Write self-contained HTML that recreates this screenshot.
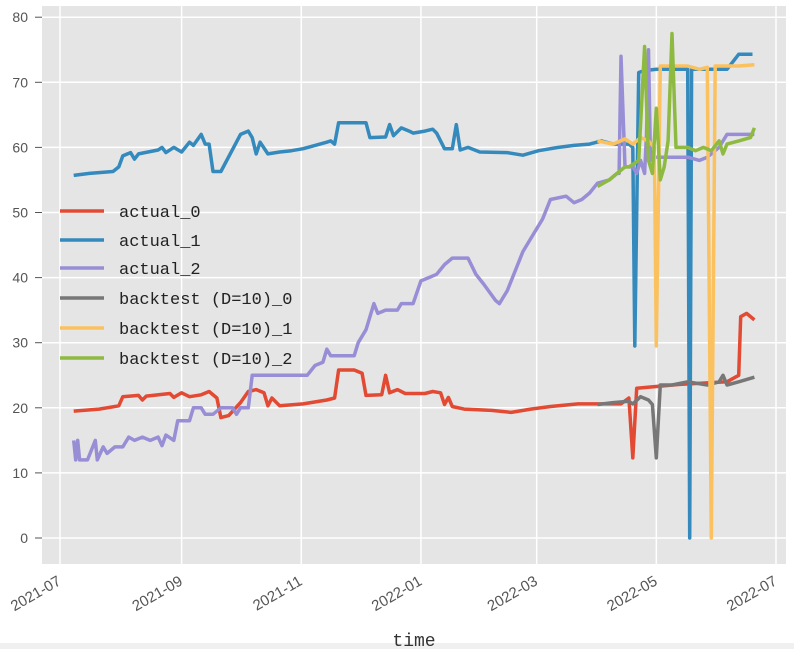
<!DOCTYPE html>
<html><head><meta charset="utf-8"><style>
body{margin:0;background:#fff;width:794px;height:649px;overflow:hidden}
svg{display:block}
</style></head><body>
<svg id="c" width="794" height="649" xmlns="http://www.w3.org/2000/svg"></svg>
<script>
const yTicks=[0,10,20,30,40,50,60,70,80];
const xTickLabels=["2021-07","2021-09","2021-11","2022-01","2022-03","2022-05","2022-07"];
const xTickDays=[0,62,123,184,243,304,365];
const seriesNames=["actual_0","actual_1","actual_2","backtest (D=10)_0","backtest (D=10)_1","backtest (D=10)_2"];
const a0Days=[7,20,30,32,40,42,44,56,58,62,66,72,76,80,82,86,92,96,100,104,106,108,112,124,136,140,142,150,154,156,164,166,168,172,176,186,190,194,196,198,200,206,220,230,240,250,264,276,286,290,292,294,316,340,346,347,350,354];
const a0Vals=[19.5,19.8,20.3,21.7,21.9,21.2,21.8,22.2,21.6,22.3,21.7,22,22.5,21.5,18.5,18.8,20.8,22.5,22.8,22.3,20.3,21.5,20.3,20.6,21.2,21.5,25.8,25.8,25.3,21.9,22,25,22.3,22.8,22.2,22.2,22.5,22.3,20.5,21.6,20.2,19.8,19.6,19.3,19.8,20.2,20.6,20.6,20.6,21.5,12.3,23,23.6,24,25,34,34.5,33.5];
const a1Days=[7,15,27,30,32,36,38,40,50,52,54,58,62,66,68,72,74,76,78,82,92,96,98,100,102,106,112,118,124,130,136,138,140,142,156,158,166,168,170,174,178,180,186,190,192,196,200,202,204,208,214,228,236,244,254,262,270,276,282,290,292,293,295,298,304,318,320,321,322,340,346,353];
const a1Vals=[55.7,56,56.3,57,58.7,59.2,58.2,59,59.6,60,59.2,60,59.3,60.8,60.3,62,60.5,60.5,56.3,56.3,62,62.5,61.5,59,60.8,59,59.3,59.5,59.8,60.3,60.8,61,60.5,63.8,63.8,61.5,61.6,63.5,61.8,63,62.5,62.2,62.5,62.8,62.2,59.8,59.8,63.5,59.6,60,59.3,59.2,58.8,59.5,60,60.3,60.5,61,60.5,60.5,60,29.5,71.5,71.8,72,72,72,0,72,72,74.3,74.3];
const a2Days=[7,8,9,10,14,18,19,22,24,28,32,35,38,42,46,50,52,54,58,60,66,68,72,74,78,82,88,90,92,96,98,118,126,130,134,136,138,150,152,156,160,162,166,172,174,180,184,188,192,196,200,208,212,216,222,224,228,232,236,242,246,250,258,262,266,270,274,280,284,285,286,288,292,294,296,298,299,300,301,304,306,310,320,326,330,336,340,354];
const a2Vals=[15,12,15,12,12,15,12,14,13,14,14,15.5,15,15.5,15,15.5,14.2,15.8,15,18,18,20,20,19,19,20,20,19,20,20,25,25,25,26.5,27,29,28,28,30,32,36,34.5,35,35,36,36,39.5,40,40.5,42,43,43,40.5,39,36.5,36,38,41,44,47,49,52,52.5,51.5,52,53,54.5,55,56,56,74,57,57,56,58,56,62,75,58,58.5,58.5,58.5,58.5,58,58.5,60,62,62];
const b0Days=[274,282,290,292,296,300,302,304,306,312,320,330,336,338,340,346,354];
const b0Vals=[20.5,20.8,21,20.6,21.7,21.2,20.5,12.3,23.5,23.5,24,23.5,24,25,23.5,24,24.7];
const b1Days=[274,282,288,292,296,300,303,304,306,312,320,326,330,332,334,340,346,354];
const b1Vals=[61,60.5,61.3,60.5,61.5,61,60,29.5,72.5,72.5,72.5,72,72.3,0,72.5,72.5,72.5,72.7];
const b2Days=[274,280,284,288,290,295,298,300,302,304,306,308,310,312,314,320,324,328,332,336,338,340,346,352,354];
const b2Vals=[54,55,56,57,57,58,75.5,58,56,66,55,57,61,77.5,60,60,59.5,60,59.5,61,59,60.5,61,61.5,63];
const colors=["#E24A33","#348ABD","#988ED5","#777777","#FBC15E","#8EBA42"];
const L=42,R=786,T=6,B=564;
const xS=d=>60+d*716/365;
const yS=v=>538-v*6.51;
const NS="http://www.w3.org/2000/svg";
const svg=document.getElementById('c');
function mk(tag,attrs,parent){const e=document.createElementNS(NS,tag);for(const k in attrs)e.setAttribute(k,attrs[k]);(parent||svg).appendChild(e);return e;}
let bg=mk('rect',{x:L,y:T,width:R-L,height:B-T,fill:'#E5E5E5'});


mk('rect',{x:0,y:643,width:794,height:6,fill:'#f0f0f0'});
yTicks.forEach(v=>{
 const g=mk('line',{x1:L,x2:R,y1:yS(v),y2:yS(v),stroke:'#fff','stroke-width':1.5});
 
 
 mk('line',{x1:35,x2:L,y1:yS(v),y2:yS(v),stroke:'#555','stroke-width':1});
 const t=mk('text',{x:28,y:yS(v)+5,'text-anchor':'end','font-size':14,fill:'#555','font-family':'Liberation Sans, sans-serif'});
 t.textContent=v;
 
 
});
xTickDays.forEach((d,i)=>{
 const x=xS(d);
 const g=mk('line',{x1:x,x2:x,y1:T,y2:B,stroke:'#fff','stroke-width':1.5});
 
 
 const t=mk('text',{x:x+2,y:B+20,'text-anchor':'end','font-size':15,fill:'#555','font-family':'Liberation Sans, sans-serif',transform:`rotate(-30 ${x+2} ${B+20})`});
 t.textContent=xTickLabels[i];
 
 
});
const xt=mk('text',{x:414,y:646,'text-anchor':'middle','font-size':18,fill:'#333','font-family':'Liberation Mono, monospace'});
xt.textContent='time';


const all=[[a0Days,a0Vals],[a1Days,a1Vals],[a2Days,a2Vals],[b0Days,b0Vals],[b1Days,b1Vals],[b2Days,b2Vals]];
all.forEach((s,i)=>{
 const pts=s[0].map((d,j)=>xS(d).toFixed(1)+','+yS(s[1][j]).toFixed(1)).join(' ');
 const p=mk('polyline',{points:pts,fill:'none',stroke:colors[i],'stroke-width':3.5,'stroke-linejoin':'round'});
 
 
});
const legY=[211,240,268,298,328,358];
seriesNames.forEach((n,i)=>{
 const g=mk('g',{});
 
 
 mk('line',{x1:60,x2:104,y1:legY[i],y2:legY[i],stroke:colors[i],'stroke-width':3.5},g);
 const t=mk('text',{x:119,y:legY[i]+6,'font-size':17,fill:'#222','font-family':'Liberation Mono, monospace'},g);
 t.textContent=n;
});
</script>
</body></html>
